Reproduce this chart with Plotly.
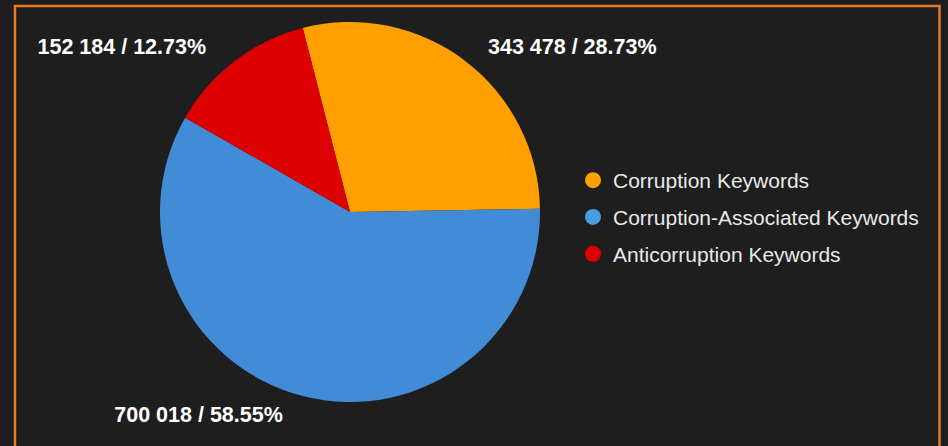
import plotly.graph_objects as go

# Keyword-group totals
categories = ["Corruption Keywords", "Corruption-Associated Keywords", "Anticorruption Keywords"]
counts = [343478, 700018, 152184]
slice_colors = ["#ffa000", "#428bd6", "#dc0000"]
legend_colors = ["#ffa000", "#4a9be0", "#dc0000"]

W, H = 948, 446
BG = "#1e1e1e"
NB = "\u00a0"

label_font = dict(family="Liberation Sans", size=21.5, color="#ffffff", weight="bold")
fmt = "%{value:,} / %{percent:.2%}"
# labels are nudged a little further away from the pie edge
label_templates = [NB * 2 + fmt, fmt + NB * 2, fmt + NB * 3]

fig = go.Figure()

# visible pie
fig.add_trace(go.Pie(
    labels=categories,
    values=counts,
    sort=False,
    direction="clockwise",
    rotation=-14.4,
    marker=dict(colors=slice_colors, line=dict(width=0)),
    textinfo="none",
    domain=dict(x=[160 / W, 540 / W], y=[1 - 402 / H, 1 - 22 / H]),
    showlegend=False,
    automargin=False,
    hoverinfo="label+value+percent",
))

# transparent ring carrying the outside value labels
fig.add_trace(go.Pie(
    labels=categories,
    values=counts,
    sort=False,
    direction="clockwise",
    rotation=-14.4,
    marker=dict(colors=["rgba(0,0,0,0)"] * 3, line=dict(width=0)),
    textposition="outside",
    texttemplate=label_templates,
    outsidetextfont=label_font,
    textfont=label_font,
    domain=dict(x=[152 / W, 548 / W], y=[1 - 410 / H, 1 - 14 / H]),
    showlegend=False,
    automargin=False,
    hoverinfo="skip",
))

# Legend entries drawn with round markers
for i, (name, col) in enumerate(zip(categories, legend_colors)):
    fig.add_trace(go.Scatter(
        x=[None], y=[None], mode="markers", name=name,
        legendgroup=f"g{i}",
        marker=dict(symbol="circle", size=18, color=col),
        showlegend=True,
    ))

fig.update_layout(
    width=W, height=H,
    paper_bgcolor=BG, plot_bgcolor=BG,
    margin=dict(l=0, r=0, t=0, b=0),
    separators=". ",
    xaxis=dict(visible=False),
    yaxis=dict(visible=False),
    legend=dict(
        x=573 / W, y=1 - 217 / H, xanchor="left", yanchor="middle",
        font=dict(family="Liberation Sans", size=21, color="#e8e8e8"),
        bgcolor="rgba(0,0,0,0)",
        itemsizing="trace",
        tracegroupgap=6.5,
    ),
    shapes=[dict(
        type="rect", xref="paper", yref="paper",
        x0=15 / W, x1=939.5 / W, y0=-0.05, y1=1 - 6 / H,
        line=dict(color="#e8792a", width=2.5),
        fillcolor="rgba(0,0,0,0)",
        layer="below",
    )],
)

fig.write_html("out.html")
